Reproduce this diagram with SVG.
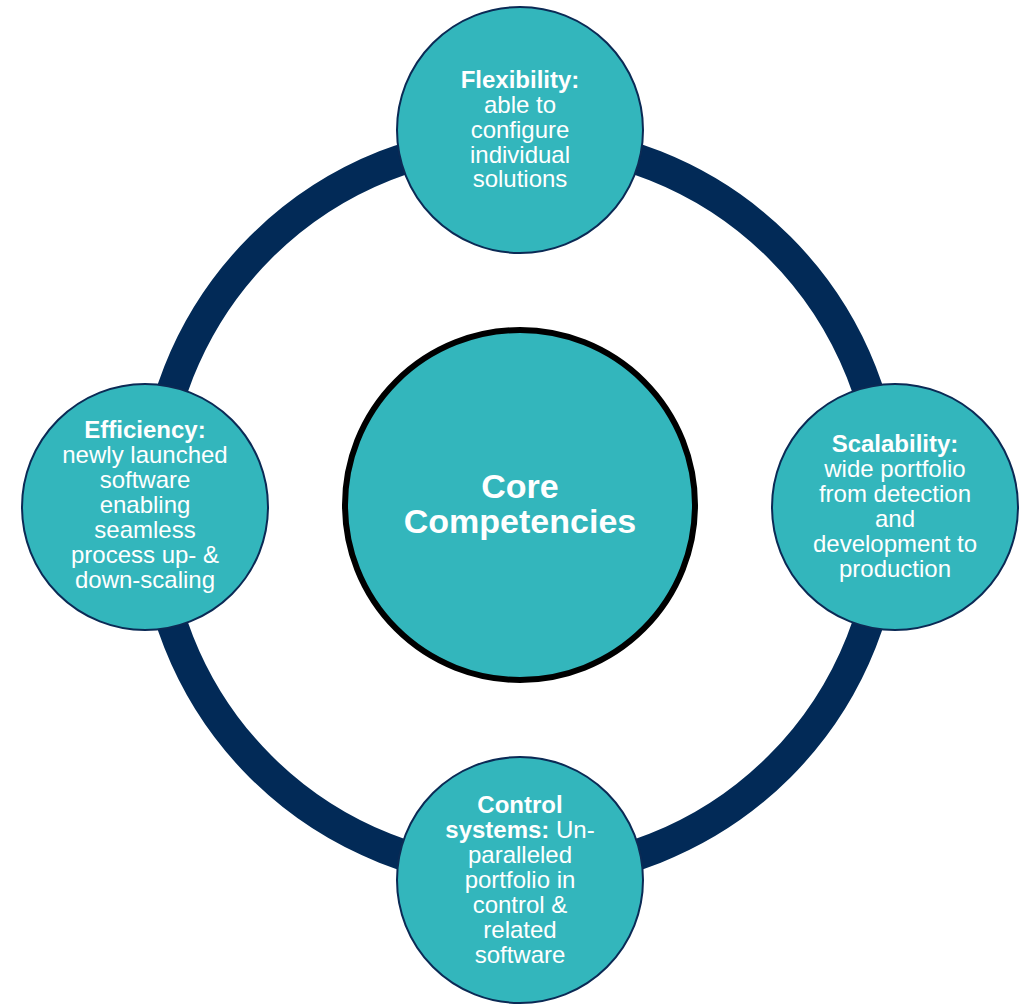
<svg xmlns="http://www.w3.org/2000/svg" width="1030" height="1004" viewBox="0 0 1030 1004">
<style>
.node{fill:#33B6BC;stroke:#0B2A55;stroke-width:2}
.core{fill:#33B6BC;stroke:#000000;stroke-width:6}
.ring{fill:none;stroke:#022A57;stroke-width:31}
text{font-family:"Liberation Sans",Arial,sans-serif;fill:#FFFFFF;text-anchor:middle}
.t{font-size:24px}
.b{font-weight:bold}
.c{font-size:34px;font-weight:bold}
</style>
<rect width="1030" height="1004" fill="#FFFFFF"/>
<g id="connectors">
<circle class="ring" cx="520" cy="507" r="367"/>
</g>
<g id="core">
<circle class="core" cx="520" cy="505" r="175"/>
<text class="c" x="520" y="498">Core</text>
<text class="c" x="520" y="533">Competencies</text>
</g>
<g id="flexibility">
<circle class="node" cx="520" cy="130" r="123"/>
<text class="t" x="520" y="88"><tspan class="b">Flexibility:</tspan></text>
<text class="t" x="520" y="113">able to</text>
<text class="t" x="520" y="138">configure</text>
<text class="t" x="520" y="163">individual</text>
<text class="t" x="520" y="187">solutions</text>
</g>
<g id="efficiency">
<circle class="node" cx="145" cy="507" r="123"/>
<text class="t" x="145" y="438"><tspan class="b">Efficiency:</tspan></text>
<text class="t" x="145" y="463">newly launched</text>
<text class="t" x="145" y="488">software</text>
<text class="t" x="145" y="513">enabling</text>
<text class="t" x="145" y="538">seamless</text>
<text class="t" x="145" y="563">process up- &amp;</text>
<text class="t" x="145" y="588">down-scaling</text>
</g>
<g id="scalability">
<circle class="node" cx="895" cy="507" r="123"/>
<text class="t" x="895" y="452"><tspan class="b">Scalability:</tspan></text>
<text class="t" x="895" y="477">wide portfolio</text>
<text class="t" x="895" y="502">from detection</text>
<text class="t" x="895" y="527">and</text>
<text class="t" x="895" y="552">development to</text>
<text class="t" x="895" y="577">production</text>
</g>
<g id="control">
<circle class="node" cx="520" cy="880" r="123"/>
<text class="t" x="520" y="813"><tspan class="b">Control</tspan></text>
<text class="t" x="520" y="838"><tspan class="b">systems:</tspan> Un-</text>
<text class="t" x="520" y="863">paralleled</text>
<text class="t" x="520" y="888">portfolio in</text>
<text class="t" x="520" y="913">control &amp;</text>
<text class="t" x="520" y="938">related</text>
<text class="t" x="520" y="963">software</text>
</g>
</svg>
